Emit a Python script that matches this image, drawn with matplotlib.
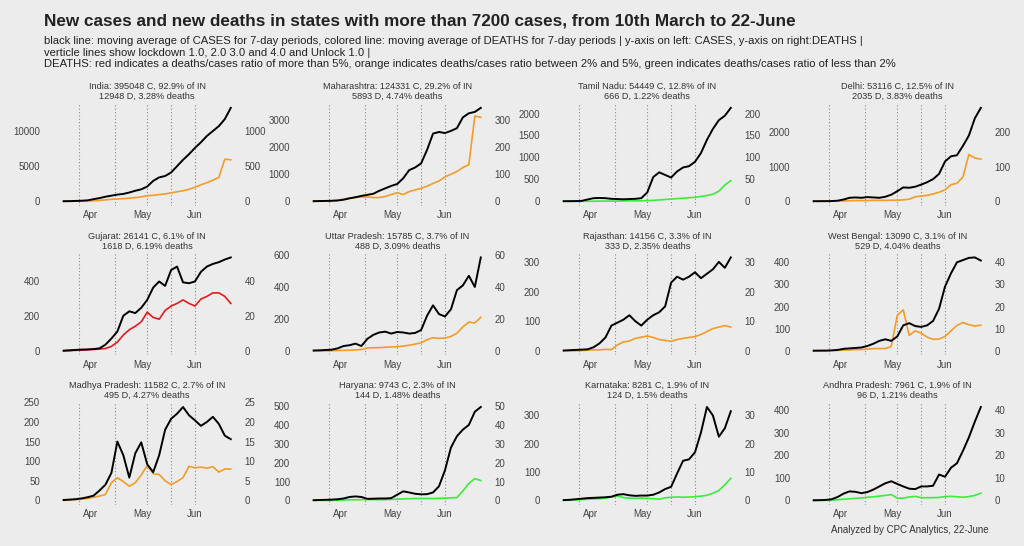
import pandas as pd
import matplotlib
matplotlib.use("Agg")
import matplotlib.pyplot as plt
import matplotlib.dates as mdates

plt.rcParams['font.family'] = ['Liberation Sans', 'DejaVu Sans']

# 7-day moving averages, sampled every 3.5 days from 16 March to 22 June
dates = pd.date_range('2020-03-16', '2020-06-22', periods=29)
lockdowns = pd.to_datetime(['2020-03-25', '2020-04-15', '2020-05-04', '2020-05-18', '2020-06-01'])

states = ['India', 'Maharashtra', 'Tamil Nadu', 'Delhi',
          'Gujarat', 'Uttar Pradesh', 'Rajasthan', 'West Bengal',
          'Madhya Pradesh', 'Haryana', 'Karnataka', 'Andhra Pradesh']
total_cases = [395048, 124331, 54449, 53116, 26141, 15785, 14156, 13090, 11582, 9743, 8281, 7961]
share_of_india = [92.9, 29.2, 12.8, 12.5, 6.1, 3.7, 3.3, 3.1, 2.7, 2.3, 1.9, 1.9]
total_deaths = [12948, 5893, 666, 2035, 1618, 488, 333, 529, 495, 144, 124, 96]
death_pct = [3.28, 4.74, 1.22, 3.83, 6.19, 3.09, 2.35, 4.04, 4.27, 1.48, 1.5, 1.21]

india_cases = [10, 20, 50, 80, 130, 300, 450, 650, 800, 950, 1050, 1250, 1500, 1700, 2100,
               2900, 3400, 3600, 4100, 5000, 5900, 6700, 7600, 8400, 9300, 10000, 10700, 11700, 13300]
india_deaths = [0.5, 1, 1.5, 3, 5, 8, 12, 20, 28, 33, 38, 45, 52, 62, 80,
                85, 95, 105, 120, 135, 150, 170, 200, 235, 265, 300, 340, 600, 590]
maha_cases = [5, 10, 15, 20, 30, 60, 110, 150, 200, 240, 280, 390, 480, 570, 640,
              850, 1150, 1250, 1400, 1900, 2500, 2560, 2520, 2600, 2700, 3100, 3250, 3300, 3450]
maha_deaths = [0.3, 0.5, 1, 2, 4, 8, 12, 15, 16, 16, 14, 14, 18, 25, 32,
               25, 36, 42, 48, 56, 66, 75, 90, 100, 110, 125, 135, 315, 310]
tn_cases = [1, 2, 3, 8, 40, 70, 75, 70, 55, 50, 45, 50, 55, 70, 200,
            550, 660, 600, 540, 680, 770, 800, 900, 1100, 1400, 1650, 1850, 1950, 2130]
tn_deaths = [0, 0, 0, 0, 0, 0, 0.2, 0.3, 0.4, 0.5, 0.7, 1, 1, 1, 1.5,
             2, 3, 4, 5, 6, 7, 8, 9, 11, 13, 16, 23, 37, 47]
delhi_cases = [1, 2, 3, 5, 15, 50, 100, 110, 100, 120, 110, 100, 130, 190, 290,
               400, 390, 420, 480, 550, 640, 790, 1150, 1300, 1330, 1600, 1900, 2400, 2700]
delhi_deaths = [0, 0, 0.2, 0.5, 1, 1, 1.5, 2, 2, 2, 2.5, 2.5, 2.5, 3, 3,
                4, 6, 13, 15, 17, 21, 26, 33, 48, 52, 70, 135, 125, 122]
guj_cases = [1, 3, 5, 7, 8, 10, 14, 35, 70, 110, 200, 225, 215, 245, 290,
             360, 395, 370, 460, 480, 390, 385, 395, 450, 480, 495, 505, 520, 532]
guj_deaths = [0, 0.1, 0.3, 0.4, 0.6, 0.8, 1, 1.3, 2.5, 5, 9, 12, 14, 16.5, 22,
              19, 18, 23, 25.5, 27, 29, 27, 25.5, 29.5, 31, 33, 33, 31, 27]
up_cases = [2, 3, 5, 7, 15, 30, 35, 45, 30, 75, 100, 115, 120, 108, 118,
            115, 108, 112, 130, 220, 285, 230, 215, 260, 380, 410, 470, 400, 585]
up_deaths = [0, 0, 0, 0.1, 0.2, 0.3, 0.4, 0.6, 0.8, 1.8, 1.9, 2, 2.2, 2.4, 2.6,
             3, 3.5, 4.2, 5, 7, 8.2, 7.8, 8, 9, 11, 15, 18, 17.5, 21]
raj_cases = [1, 2, 3, 4, 5, 12, 25, 45, 85, 95, 105, 120, 100, 85, 105,
             120, 130, 150, 230, 250, 240, 250, 265, 245, 260, 275, 300, 280, 315]
raj_deaths = [0, 0, 0, 0.1, 0.2, 0.3, 0.3, 0.5, 0.4, 2, 3, 3.3, 4.2, 4.6, 5,
              4.5, 3.8, 3.5, 3.2, 3.8, 4.2, 4.5, 4.8, 5.5, 6.5, 7.5, 8, 8.5, 8]
wb_cases = [0.5, 1, 1, 2, 4, 9, 11, 13, 15, 22, 32, 45, 52, 45, 65,
            115, 125, 112, 108, 115, 135, 190, 290, 350, 400, 410, 420, 422, 408]
wb_deaths = [0, 0, 0, 0.1, 0.2, 0.3, 0.4, 0.5, 0.6, 0.8, 1, 1, 1, 2, 16,
             18.5, 7, 9, 8, 6.2, 5.2, 5.3, 6.5, 9, 11.5, 12.8, 11.8, 11.2, 11.6]
mp_cases = [1, 2, 3, 5, 8, 12, 25, 40, 70, 150, 115, 58, 120, 148, 92,
            72, 115, 180, 208, 221, 238, 217, 204, 190, 200, 213, 195, 165, 156]
mp_deaths = [0, 0.1, 0.2, 0.3, 0.5, 0.8, 1.1, 1.5, 4.5, 5.8, 4.8, 3.6, 4.5, 6.5, 8.9,
             6.8, 6.6, 5, 4, 4.8, 5.8, 8.7, 8.3, 8.5, 8.2, 8.6, 7.2, 8, 8]
har_cases = [1, 2, 3, 4, 6, 10, 18, 21, 18, 8, 9, 10, 10, 12, 30,
             48, 42, 35, 32, 33, 42, 75, 160, 280, 340, 375, 400, 470, 495]
har_deaths = [0, 0, 0, 0, 0.1, 0.2, 0.3, 0.3, 0.4, 0.4, 0.4, 0.4, 0.4, 0.5, 0.6,
              0.8, 0.9, 1, 1, 1, 1, 1.1, 1.2, 1.3, 1.5, 5, 9, 11.5, 10.5]
kar_cases = [1, 2, 4, 6, 8, 9, 10, 11, 13, 20, 22, 18, 16, 17, 17,
             20, 28, 40, 48, 95, 140, 145, 170, 240, 330, 300, 225, 255, 315]
kar_deaths = [0, 0.1, 0.2, 0.3, 0.4, 0.5, 0.6, 0.8, 1.2, 1.5, 1, 0.8, 0.7, 0.8, 0.7,
              0.6, 0.4, 0.9, 1.1, 1.2, 1.1, 1.2, 1.3, 1.5, 1.8, 2.5, 3.5, 5.5, 7.8]
ap_cases = [0.5, 1, 2, 5, 15, 30, 40, 38, 32, 37, 48, 62, 76, 85, 73,
            62, 52, 50, 62, 62, 65, 115, 105, 145, 165, 220, 280, 350, 415]
ap_deaths = [0, 0, 0, 0.1, 0.3, 0.5, 0.7, 0.9, 1.1, 1.4, 1.6, 1.9, 2.2, 2.6, 1,
             1, 1.5, 1.8, 1.2, 1.2, 1.2, 1.3, 1.7, 1.8, 1.6, 1.4, 1.7, 2.2, 3.2]

cases_by_state = [india_cases, maha_cases, tn_cases, delhi_cases, guj_cases, up_cases,
                  raj_cases, wb_cases, mp_cases, har_cases, kar_cases, ap_cases]
deaths_by_state = [india_deaths, maha_deaths, tn_deaths, delhi_deaths, guj_deaths, up_deaths,
                   raj_deaths, wb_deaths, mp_deaths, har_deaths, kar_deaths, ap_deaths]

case_ticks = [[0, 5000, 10000], [0, 1000, 2000, 3000], [0, 500, 1000, 1500, 2000], [0, 1000, 2000],
              [0, 200, 400], [0, 200, 400, 600], [0, 100, 200, 300], [0, 100, 200, 300, 400],
              [0, 50, 100, 150, 200, 250], [0, 100, 200, 300, 400, 500], [0, 100, 200, 300],
              [0, 100, 200, 300, 400]]

# deaths are drawn on the cases axis multiplied by this factor
scale = 10
bg = '#ececec'


def death_colour(pct):
    if pct > 5:
        return '#e41a1c'
    if pct >= 2:
        return '#f39c27'
    return '#3cec3c'


fig, axes = plt.subplots(3, 4, figsize=(10.24, 5.46), dpi=100, facecolor=bg)
fig.subplots_adjust(left=0.054, right=0.966, top=0.811, bottom=0.075, wspace=0.36, hspace=0.456)

for i, ax in enumerate(axes.flat):
    ax.set_facecolor(bg)
    for d in lockdowns:
        ax.axvline(d, color='#888888', linestyle=(0, (1, 2)), linewidth=0.8, zorder=1)
    ax.plot(dates, [v * scale for v in deaths_by_state[i]], color=death_colour(death_pct[i]),
            linewidth=1.2, zorder=2)
    ax.plot(dates, cases_by_state[i], color='black', linewidth=1.4, zorder=3)

    for s in ax.spines.values():
        s.set_visible(False)
    ax.tick_params(length=0, labelsize=7, labelcolor='#444444')
    ax.tick_params(axis='y', pad=11)
    ax.tick_params(axis='x', pad=3)
    ax.xaxis.set_major_locator(mdates.MonthLocator(bymonth=[4, 5, 6]))
    ax.xaxis.set_major_formatter(mdates.DateFormatter('%b'))
    ticks = case_ticks[i]
    ax.set_yticks(ticks, [str(t) for t in ticks])

    sec = ax.secondary_yaxis('right', functions=(lambda y: y / scale, lambda y: y * scale))
    sec.set_yticks([t / scale for t in ticks], [str(int(t / scale)) for t in ticks])
    sec.tick_params(length=0, labelsize=7, labelcolor='#444444', pad=4)
    for s in sec.spines.values():
        s.set_visible(False)

    ax.set_title(f"{states[i]}: {total_cases[i]} C, {share_of_india[i]}% of IN\n"
                 f"{total_deaths[i]} D, {death_pct[i]}% deaths",
                 fontsize=6.6, color='#333333', pad=3, linespacing=1.15)

fig.text(0.043, 0.961, 'New cases and new deaths in states with more than 7200 cases, from 10th March to 22-June',
         fontsize=12.3, fontweight='bold', color='#222222', va='center')
subtitle_lines = ["black line: moving average of CASES for 7-day periods, colored line: moving average of DEATHS "
                  "for 7-day periods | y-axis on left: CASES, y-axis on right:DEATHS |",
                  "verticle lines show lockdown 1.0, 2.0 3.0 and 4.0 and Unlock 1.0 |",
                  "DEATHS: red indicates a deaths/cases ratio of more than 5%, orange indicates deaths/cases ratio "
                  "between 2% and 5%, green indicates deaths/cases ratio of less than 2%"]
for n, line in enumerate(subtitle_lines):
    fig.text(0.043, 1 - (41 + 11.5 * n) / 546, line, fontsize=8.15, color='#222222', va='center')
fig.text(0.965, 0.029, 'Analyzed by CPC Analytics, 22-June', fontsize=7, color='#333333', ha='right', va='center')

fig.savefig('out.png', dpi=100, facecolor=bg)
